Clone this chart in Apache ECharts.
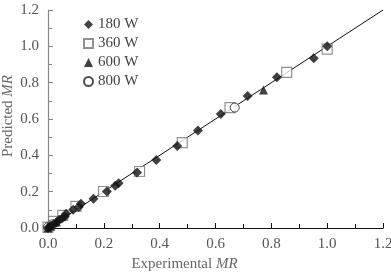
<!DOCTYPE html>
<html>
<head>
<meta charset="utf-8">
<script src="https://cdn.jsdelivr.net/npm/echarts@6/dist/echarts.min.js"></script>
<style>
  html, body { margin: 0; padding: 0; background: #fff; }
  #chart { width: 391px; height: 274px; }
</style>
</head>
<body>
<div id="chart"></div>
<script>
// experimental MR vs predicted MR, per microwave power
const series180 = [[0, 0], [0.005, 0.005], [0.01, 0.012], [0.02, 0.02], [0.03, 0.03], [0.04, 0.045],
  [0.05, 0.052], [0.06, 0.063], [0.065, 0.079], [0.09, 0.1], [0.11, 0.115], [0.118, 0.134],
  [0.163, 0.161], [0.211, 0.201], [0.241, 0.233], [0.253, 0.247], [0.319, 0.306], [0.388, 0.375],
  [0.463, 0.452], [0.537, 0.537], [0.619, 0.628], [0.715, 0.727], [0.82, 0.83], [0.952, 0.935], [1.0, 1.0]]
const series360 = [[0, 0.005], [0.02, 0.036], [0.053, 0.069], [0.1, 0.119], [0.199, 0.201],
  [0.328, 0.311], [0.481, 0.47], [0.652, 0.663], [0.855, 0.857], [1.0, 0.985]]
const series600 = [[0, 0], [0.01, 0.01], [0.03, 0.035], [0.772, 0.76]]
const series800 = [[0, 0.005], [0.015, 0.02], [0.669, 0.663]]
const fitLine = [[0, 0], [1.2, 1.2]]
const legendNames = ['180 W', '360 W', '600 W', '800 W']

const serif = 'Liberation Serif'
const chart = echarts.init(document.getElementById('chart'))

const axisBase = (lineColor, labelColor) => ({
  type: 'value',
  min: 0,
  max: 1.2,
  interval: 0.2,
  splitLine: { show: false },
  axisLine: { show: true, lineStyle: { color: lineColor, width: 1.2 } },
  axisTick: { show: true, inside: true, length: 5, lineStyle: { color: lineColor } },
  minorTick: { show: true, splitNumber: 2, length: 4, lineStyle: { color: lineColor } },
  axisLabel: {
    fontFamily: serif,
    fontSize: 15,
    color: labelColor,
    margin: 9,
    formatter: v => v.toFixed(1)
  },
  nameTextStyle: {
    fontFamily: serif,
    fontSize: 15,
    color: '#666',
    rich: { i: { fontFamily: serif, fontSize: 15, color: '#666', fontStyle: 'italic' } }
  }
})

const xBase = axisBase('#111', '#555')
const yBase = axisBase('#888', '#555')

chart.setOption({
  backgroundColor: '#fff',
  animation: false,
  grid: { left: 48, right: 8, top: 10, bottom: 46, outerBoundsMode: 'none', containLabel: false },
  legend: {
    data: legendNames,
    orient: 'vertical',
    left: 78,
    top: 12,
    itemWidth: 9,
    itemHeight: 9,
    itemGap: 4,
    textStyle: { fontFamily: serif, fontSize: 15, color: '#444' }
  },
  xAxis: {
    ...xBase,
    name: 'Experimental {i|MR}',
    nameLocation: 'middle',
    nameGap: 28,
    nameTextStyle: { ...xBase.nameTextStyle, padding: [0, 62, 0, 0] }
  },
  yAxis: {
    ...yBase,
    name: 'Predicted {i|MR}',
    nameLocation: 'middle',
    nameMoveOverlap: false,
    nameGap: 32,
    nameTextStyle: { ...yBase.nameTextStyle, padding: [0, 0, 0, 6] }
  },
  series: [
    {
      name: 'fit',
      type: 'line',
      data: fitLine,
      showSymbol: false,
      silent: true,
      lineStyle: { color: '#111', width: 1 },
      z: 1
    },
    {
      name: '360 W',
      type: 'scatter',
      symbol: 'rect',
      symbolSize: 10,
      data: series360,
      itemStyle: { color: '#fff', borderColor: '#777', borderWidth: 1.2 },
      z: 2
    },
    {
      name: '800 W',
      type: 'scatter',
      symbol: 'circle',
      symbolSize: 9,
      data: series800,
      itemStyle: { color: '#fff', borderColor: '#222', borderWidth: 1 },
      z: 3
    },
    {
      name: '600 W',
      type: 'scatter',
      symbol: 'triangle',
      symbolSize: 9,
      data: series600,
      itemStyle: { color: '#111' },
      z: 4
    },
    {
      name: '180 W',
      type: 'scatter',
      symbol: 'diamond',
      symbolSize: 10,
      data: series180,
      itemStyle: { color: '#111' },
      z: 5
    }
  ]
})
</script>
</body>
</html>
